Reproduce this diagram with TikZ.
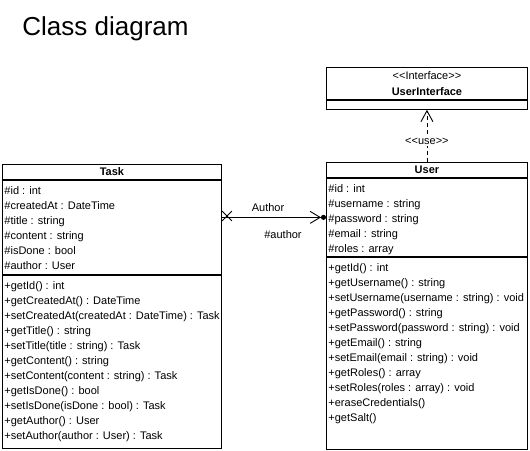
\documentclass[tikz,border=0pt]{standalone}
\usepackage{fontspec}
\setmainfont{Liberation Sans}
\usetikzlibrary{arrows.meta,shapes.misc}
\newcommand{\stereo}[1]{<\kern0pt<#1>\kern0pt>}

\begin{document}
\begin{tikzpicture}[x=1pt,y=-1pt,line width=0.9pt,
                every node/.style={font=\fontsize{11}{15}\selectfont},
                box/.style={draw,anchor=north west,inner sep=0pt},
                members/.style={anchor=north west,align=left,inner xsep=2pt,inner ysep=6pt},
                assoc/.style={-{Straight Barb[length=10pt,width=12pt] Circle[length=5pt]}},
                dep/.style={dash pattern=on 4pt off 3pt,-{Straight Barb[length=11pt,width=12pt]}}]
  \useasboundingbox (0,0) rectangle (530,450);
  \node[anchor=base west,inner sep=0pt,font=\fontsize{26}{30}\selectfont] (title) at (22,35) {Class diagram};

  % Task
  \node[box,minimum width=219pt,minimum height=15pt] (taskhead) at (2,164) {\textbf{Task}};
  \node[box,minimum width=219pt,minimum height=94pt] (taskattr) at (taskhead.south west) {};
  \node[box,minimum width=219pt,minimum height=173pt] (taskmeth) at (taskattr.south west) {};
  \node[members] (taskattrtext) at (taskattr.north west) {\#id : int\\\#createdAt : DateTime\\\#title : string\\\#content : string\\\#isDone : bool\\\#author : User};
  \node[members] (taskmethtext) at (taskmeth.north west) {+getId() : int\\+getCreatedAt() : DateTime\\+setCreatedAt(createdAt : DateTime) : Task\\+getTitle() : string\\+setTitle(title : string) : Task\\+getContent() : string\\+setContent(content : string) : Task\\+getIsDone() : bool\\+setIsDone(isDone : bool) : Task\\+getAuthor() : User\\+setAuthor(author : User) : Task};

  % User
  \node[box,minimum width=201pt,minimum height=15pt] (userhead) at (326,162) {\textbf{User}};
  \node[box,minimum width=201pt,minimum height=78pt] (userattr) at (userhead.south west) {};
  \node[box,minimum width=201pt,minimum height=192pt] (usermeth) at (userattr.south west) {};
  \node[members] (userattrtext) at (userattr.north west) {\#id : int\\\#username : string\\\#password : string\\\#email : string\\\#roles : array};
  \node[members] (usermethtext) at (usermeth.north west) {+getId() : int\\+getUsername() : string\\+setUsername(username : string) : void\\+getPassword() : string\\+setPassword(password : string) : void\\+getEmail() : string\\+setEmail(email : string) : void\\+getRoles() : array\\+setRoles(roles : array) : void\\+eraseCredentials()\\+getSalt()};

  % UserInterface
  \node[box,minimum width=201pt,minimum height=32pt,align=center] (ifacehead) at (326,67) {\stereo{Interface}\\[1pt]\textbf{UserInterface}};
  \node[box,minimum width=201pt,minimum height=9pt] (ifacebody) at (ifacehead.south west) {};

  % links
  \node[draw,cross out,minimum size=9pt,inner sep=0pt,line width=0.8pt] (xmark) at (227,216) {};
  \draw[assoc] (taskattr.east |- userattr.west) -- (userattr.west);
  \node (rolename) at (268,208) {Author};
  \node (attrname) at (283,235) {\#author};
  \draw[dep] (userhead.north) -- (ifacebody.south) node[pos=0.39,fill=white,inner sep=1pt] (uselabel) {\stereo{use}};
\end{tikzpicture}
\end{document}
